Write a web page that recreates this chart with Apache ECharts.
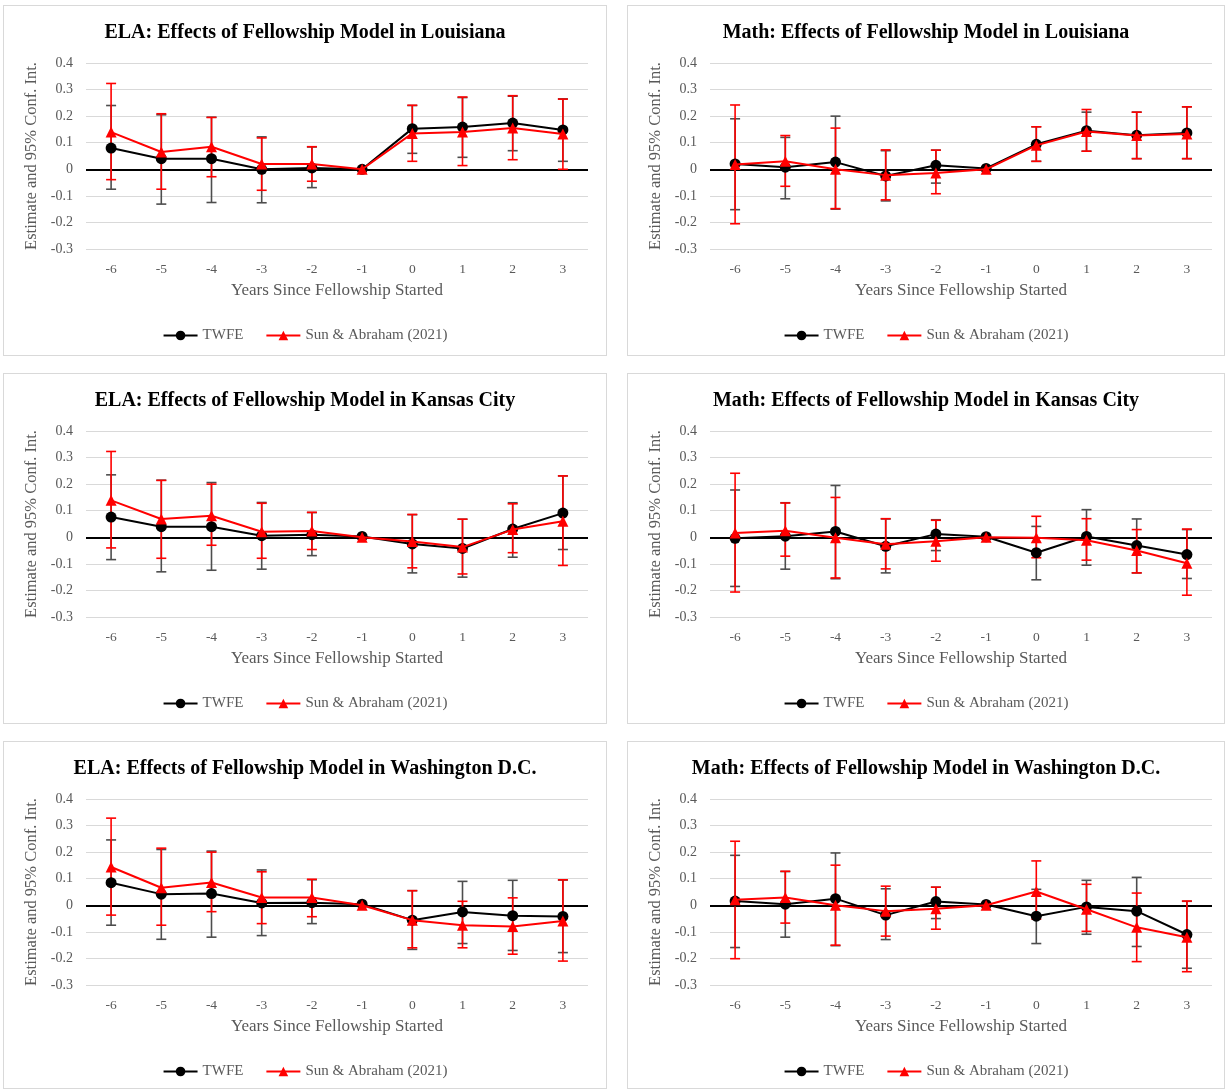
<!DOCTYPE html>
<html>
<head>
<meta charset="utf-8">
<script src="https://cdn.jsdelivr.net/npm/echarts@6/dist/echarts.min.js"></script>
<style>
  html, body { margin:0; padding:0; background:#ffffff; }
  .panel { position:absolute; border:1px solid #d9d9d9; box-sizing:border-box; background:#fff; }
</style>
</head>
<body>
<script>
// ---------- DATA ----------
const years = ['-6','-5','-4','-3','-2','-1','0','1','2','3'];
const yTicks = [-0.3, -0.2, -0.1, 0, 0.1, 0.2, 0.3, 0.4];

const titles = [
  'ELA: Effects of Fellowship Model in Louisiana',
  'Math: Effects of Fellowship Model in Louisiana',
  'ELA: Effects of Fellowship Model in Kansas City',
  'Math: Effects of Fellowship Model in Kansas City',
  'ELA: Effects of Fellowship Model in Washington D.C.',
  'Math: Effects of Fellowship Model in Washington D.C.'
];

// ELA Louisiana
const elaLaTwfe   = [0.08, 0.04, 0.04, 0.0, 0.005, 0.0, 0.153, 0.159, 0.174, 0.148];
const elaLaTwfeLo = [-0.075, -0.131, -0.125, -0.126, -0.069, null, 0.06, 0.045, 0.07, 0.03];
const elaLaTwfeHi = [0.24, 0.205, 0.196, 0.122, 0.084, null, 0.24, 0.27, 0.275, 0.265];
const elaLaSa     = [0.14, 0.065, 0.085, 0.02, 0.02, 0.0, 0.135, 0.14, 0.155, 0.133];
const elaLaSaLo   = [-0.039, -0.075, -0.028, -0.079, -0.045, null, 0.03, 0.014, 0.036, 0.0];
const elaLaSaHi   = [0.323, 0.209, 0.195, 0.118, 0.085, null, 0.241, 0.272, 0.277, 0.264];

// Math Louisiana
const mathLaTwfe   = [0.02, 0.008, 0.027, -0.025, 0.015, 0.003, 0.094, 0.145, 0.128, 0.137];
const mathLaTwfeLo = [-0.152, -0.111, -0.15, -0.119, -0.052, null, 0.03, 0.068, 0.04, 0.04];
const mathLaTwfeHi = [0.19, 0.12, 0.2, 0.07, 0.072, null, 0.16, 0.215, 0.215, 0.235];
const mathLaSa     = [0.018, 0.03, 0.0, -0.022, -0.014, 0.0, 0.09, 0.142, 0.127, 0.133];
const mathLaSaLo   = [-0.205, -0.064, -0.148, -0.115, -0.092, null, 0.03, 0.068, 0.04, 0.04];
const mathLaSaHi   = [0.242, 0.127, 0.155, 0.073, 0.072, null, 0.16, 0.225, 0.215, 0.235];

// ELA Kansas City
const elaKcTwfe   = [0.076, 0.04, 0.04, 0.006, 0.01, 0.003, -0.025, -0.042, 0.031, 0.091];
const elaKcTwfeLo = [-0.084, -0.13, -0.124, -0.12, -0.069, null, -0.134, -0.15, -0.075, -0.046];
const elaKcTwfeHi = [0.235, 0.215, 0.206, 0.131, 0.093, null, 0.085, 0.068, 0.13, 0.231];
const elaKcSa     = [0.139, 0.069, 0.081, 0.021, 0.024, 0.0, -0.016, -0.037, 0.029, 0.06];
const elaKcSaLo   = [-0.04, -0.079, -0.03, -0.079, -0.046, null, -0.115, -0.138, -0.058, -0.106];
const elaKcSaHi   = [0.323, 0.214, 0.2, 0.128, 0.094, null, 0.086, 0.068, 0.126, 0.231];

// Math Kansas City
const mathKcTwfe   = [-0.004, 0.004, 0.022, -0.034, 0.012, 0.002, -0.058, 0.003, -0.031, -0.065];
const mathKcTwfeLo = [-0.185, -0.12, -0.156, -0.134, -0.05, null, -0.16, -0.105, -0.134, -0.155];
const mathKcTwfeHi = [0.178, 0.13, 0.195, 0.069, 0.066, null, 0.041, 0.104, 0.069, 0.029];
const mathKcSa     = [0.016, 0.025, -0.002, -0.026, -0.015, 0.0, -0.002, -0.011, -0.05, -0.098];
const mathKcSaLo   = [-0.206, -0.071, -0.153, -0.119, -0.09, null, -0.077, -0.086, -0.134, -0.218];
const mathKcSaHi   = [0.241, 0.129, 0.15, 0.07, 0.064, null, 0.079, 0.07, 0.029, 0.031];

// ELA Washington D.C.
const elaDcTwfe   = [0.085, 0.042, 0.044, 0.009, 0.01, 0.004, -0.056, -0.025, -0.039, -0.042];
const elaDcTwfeLo = [-0.075, -0.128, -0.12, -0.114, -0.069, null, -0.166, -0.144, -0.17, -0.178];
const elaDcTwfeHi = [0.246, 0.21, 0.204, 0.133, 0.096, null, 0.055, 0.09, 0.094, 0.095];
const elaDcSa     = [0.144, 0.066, 0.086, 0.029, 0.029, 0.0, -0.056, -0.075, -0.08, -0.059];
const elaDcSaLo   = [-0.037, -0.075, -0.024, -0.069, -0.043, null, -0.16, -0.16, -0.184, -0.21];
const elaDcSaHi   = [0.328, 0.215, 0.2, 0.126, 0.098, null, 0.055, 0.015, 0.028, 0.096];

// Math Washington D.C.
const mathDcTwfe   = [0.016, 0.004, 0.025, -0.037, 0.014, 0.003, -0.041, -0.006, -0.022, -0.11];
const mathDcTwfeLo = [-0.159, -0.12, -0.152, -0.129, -0.05, null, -0.144, -0.109, -0.155, -0.237];
const mathDcTwfeHi = [0.188, 0.127, 0.197, 0.062, 0.068, null, 0.06, 0.094, 0.105, 0.015];
const mathDcSa     = [0.021, 0.029, 0.0, -0.022, -0.013, 0.0, 0.052, -0.015, -0.083, -0.12];
const mathDcSaLo   = [-0.201, -0.067, -0.15, -0.116, -0.09, null, -0.052, -0.098, -0.212, -0.25];
const mathDcSaHi   = [0.241, 0.128, 0.151, 0.072, 0.068, null, 0.167, 0.079, 0.046, 0.016];

// ---------- LAYOUT ----------
const panelData = [
  [elaLaTwfe, elaLaTwfeLo, elaLaTwfeHi, elaLaSa, elaLaSaLo, elaLaSaHi],
  [mathLaTwfe, mathLaTwfeLo, mathLaTwfeHi, mathLaSa, mathLaSaLo, mathLaSaHi],
  [elaKcTwfe, elaKcTwfeLo, elaKcTwfeHi, elaKcSa, elaKcSaLo, elaKcSaHi],
  [mathKcTwfe, mathKcTwfeLo, mathKcTwfeHi, mathKcSa, mathKcSaLo, mathKcSaHi],
  [elaDcTwfe, elaDcTwfeLo, elaDcTwfeHi, elaDcSa, elaDcSaLo, elaDcSaHi],
  [mathDcTwfe, mathDcTwfeLo, mathDcTwfeHi, mathDcSa, mathDcSaLo, mathDcSaHi]
];
const boxes = [
  {left:3, top:5, width:604, height:351},
  {left:627, top:5, width:598, height:351},
  {left:3, top:373, width:604, height:351},
  {left:627, top:373, width:598, height:351},
  {left:3, top:741, width:604, height:348},
  {left:627, top:741, width:598, height:348}
];

const FONT = '"Liberation Serif", "Times New Roman", serif';
const GREY = '#595959';

function ciData(lo, hi) {
  const out = [];
  for (let i = 0; i < lo.length; i++) {
    if (lo[i] != null && hi[i] != null) out.push([i, lo[i], hi[i]]);
  }
  return out;
}
function ciRenderer(color) {
  return function (params, api) {
    const x = api.value(0);
    const top = api.coord([x, api.value(2)]);
    const bot = api.coord([x, api.value(1)]);
    const w = 5;
    const st = { stroke: color, lineWidth: 1.6 };
    return {
      type: 'group',
      children: [
        { type: 'line', shape: { x1: top[0], y1: top[1], x2: bot[0], y2: bot[1] }, style: st },
        { type: 'line', shape: { x1: top[0] - w, y1: top[1], x2: top[0] + w, y2: top[1] }, style: st },
        { type: 'line', shape: { x1: bot[0] - w, y1: bot[1], x2: bot[0] + w, y2: bot[1] }, style: st }
      ]
    };
  };
}

boxes.forEach(function (b, k) {
  const div = document.createElement('div');
  div.className = 'panel';
  div.style.left = b.left + 'px';
  div.style.top = b.top + 'px';
  div.style.width = b.width + 'px';
  div.style.height = b.height + 'px';
  document.body.appendChild(div);
  const chart = echarts.init(div, null, { renderer: 'canvas' });
  const d = panelData[k];
  const gridW = 502;
  chart.setOption({
    animation: false,
    textStyle: { fontFamily: FONT },
    title: {
      text: titles[k], left: 'center', top: 12,
      textStyle: { fontFamily: FONT, fontWeight: 'bold', fontSize: 20, color: '#000' }
    },
    legend: {
      data: ['TWFE', 'Sun & Abraham (2021)'],
      left: 'center', top: 317,
      itemWidth: 34, itemHeight: 12, itemGap: 22,
      textStyle: { fontFamily: FONT, fontSize: 15, color: GREY }
    },
    grid: { left: 82, top: 57, width: gridW, height: 186 },
    xAxis: {
      type: 'category', data: years, boundaryGap: true,
      name: 'Years Since Fellowship Started', nameLocation: 'middle', nameGap: 33,
      nameTextStyle: { fontFamily: FONT, fontSize: 17, color: GREY },
      axisLine: { show: false }, axisTick: { show: false },
      axisLabel: { fontFamily: FONT, fontSize: 13.5, color: GREY, margin: 13 }
    },
    yAxis: {
      type: 'value', min: -0.3, max: 0.4, interval: 0.1,
      name: 'Estimate and 95% Conf. Int.', nameLocation: 'middle', nameGap: 39,
      nameTextStyle: { fontFamily: FONT, fontSize: 16.5, color: GREY },
      axisLine: { show: false }, axisTick: { show: false },
      axisLabel: {
        fontFamily: FONT, fontSize: 14, color: GREY, margin: 13,
        formatter: function (v) { const r = Math.round(v * 10) / 10; return r === 0 ? '0' : String(r); }
      },
      splitLine: { lineStyle: { color: '#d9d9d9', width: 1.2 } }
    },
    series: [
      {
        name: 'TWFE CI', type: 'custom', renderItem: ciRenderer('#4d4d4d'),
        encode: { x: 0, y: [1, 2] }, data: ciData(d[1], d[2]), z: 2, silent: true
      },
      {
        name: 'SA CI', type: 'custom', renderItem: ciRenderer('#ff0000'),
        encode: { x: 0, y: [1, 2] }, data: ciData(d[4], d[5]), z: 3, silent: true
      },
      {
        name: 'TWFE', type: 'line', data: d[0], z: 4,
        symbol: 'circle', symbolSize: 11,
        lineStyle: { color: '#000', width: 2 }, itemStyle: { color: '#000' },
        markLine: {
          silent: true, symbol: 'none', label: { show: false },
          lineStyle: { color: '#000', width: 1.8, type: 'solid' },
          data: [{ yAxis: 0 }], z: 1
        }
      },
      {
        name: 'Sun & Abraham (2021)', type: 'line', data: d[3], z: 5,
        symbol: 'triangle', symbolSize: 11,
        lineStyle: { color: '#ff0000', width: 2 }, itemStyle: { color: '#ff0000' }
      }
    ]
  });
});
</script>
</body>
</html>
